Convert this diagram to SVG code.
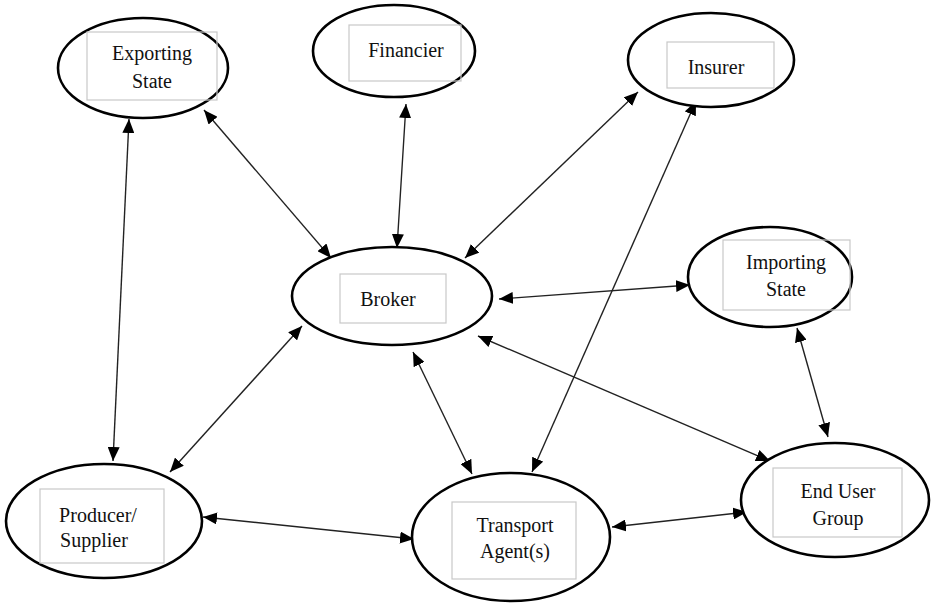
<svg xmlns="http://www.w3.org/2000/svg" width="935" height="605" viewBox="0 0 935 605">
  <style>
    .node ellipse { fill: #ffffff; stroke: #000000; stroke-width: 2.6; }
    .node rect { fill: none; stroke: #c8c8c8; stroke-width: 1.2; }
    .node text { font-family: "Liberation Serif", "Times New Roman", serif; font-size: 20px; fill: #111111; text-anchor: middle; }
    .edge { stroke: #222222; stroke-width: 1.4; fill: none; marker-start: url(#head); marker-end: url(#head); }
  </style>
  <defs>
    <marker id="head" viewBox="0 0 14 12" refX="14" refY="6" markerWidth="14" markerHeight="12" markerUnits="userSpaceOnUse" orient="auto-start-reverse">
      <path d="M0,0 L14,6 L0,12 Z" fill="#000000"/>
    </marker>
  </defs>
  <rect width="935" height="605" fill="#ffffff"/>

  <!-- connectors -->
  <g id="connectors">
    <line class="edge" x1="129" y1="119" x2="113" y2="461"/>
    <line class="edge" x1="204" y1="110" x2="331" y2="258"/>
    <line class="edge" x1="406" y1="104" x2="397" y2="248"/>
    <line class="edge" x1="638" y1="92" x2="465" y2="258"/>
    <line class="edge" x1="696" y1="101" x2="532" y2="472"/>
    <line class="edge" x1="499" y1="299" x2="690" y2="285"/>
    <line class="edge" x1="478" y1="336" x2="770" y2="461"/>
    <line class="edge" x1="413" y1="352" x2="472" y2="474"/>
    <line class="edge" x1="302" y1="326" x2="170" y2="472"/>
    <line class="edge" x1="203" y1="517" x2="414" y2="539"/>
    <line class="edge" x1="612" y1="527" x2="747" y2="512"/>
    <line class="edge" x1="797" y1="328" x2="828" y2="437"/>
  </g>

  <!-- nodes -->
  <g id="exporting-state" class="node">
    <ellipse cx="143" cy="68" rx="85" ry="50"/>
    <rect x="87" y="32" width="130" height="68"/>
    <text x="152" y="60">Exporting</text>
    <text x="152" y="88">State</text>
  </g>
  <g id="financier" class="node">
    <ellipse cx="394" cy="51" rx="81" ry="46"/>
    <rect x="349" y="25" width="112" height="56"/>
    <text x="406" y="57">Financier</text>
  </g>
  <g id="insurer" class="node">
    <ellipse cx="711" cy="60" rx="83" ry="47"/>
    <rect x="667" y="42" width="107" height="46"/>
    <text x="716" y="74">Insurer</text>
  </g>
  <g id="broker" class="node">
    <ellipse cx="392" cy="296" rx="100" ry="49"/>
    <rect x="340" y="274" width="106" height="49"/>
    <text x="388" y="306">Broker</text>
  </g>
  <g id="importing-state" class="node">
    <ellipse cx="770" cy="277" rx="82" ry="50"/>
    <rect x="723" y="240" width="127" height="70"/>
    <text x="786" y="269">Importing</text>
    <text x="786" y="296">State</text>
  </g>
  <g id="producer-supplier" class="node">
    <ellipse cx="104" cy="521" rx="98" ry="57"/>
    <rect x="40" y="489" width="124" height="74"/>
    <text x="98" y="522">Producer/</text>
    <text x="94" y="547">Supplier</text>
  </g>
  <g id="transport-agents" class="node">
    <ellipse cx="511" cy="537" rx="99" ry="64"/>
    <rect x="452" y="502" width="124" height="77"/>
    <text x="515" y="532">Transport</text>
    <text x="515" y="558">Agent(s)</text>
  </g>
  <g id="end-user-group" class="node">
    <ellipse cx="835" cy="500" rx="94" ry="57"/>
    <rect x="773" y="468" width="129" height="69"/>
    <text x="838" y="498">End User</text>
    <text x="838" y="525">Group</text>
  </g>
</svg>
